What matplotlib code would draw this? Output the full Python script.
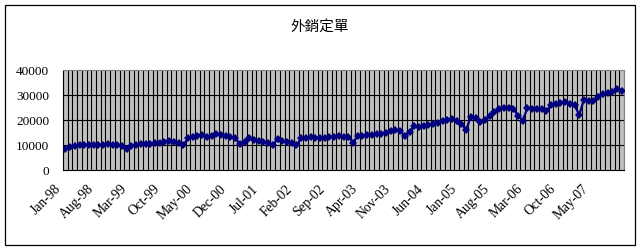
import numpy as np
import matplotlib
matplotlib.use("Agg")
import matplotlib.pyplot as plt
from matplotlib.patches import Rectangle
from matplotlib.transforms import ScaledTranslation

# monthly export orders, Jan-98 .. Nov-07
months = [f"{m}-{y:02d}" for y in list(range(98, 100)) + list(range(0, 8))
          for m in ["Jan", "Feb", "Mar", "Apr", "May", "Jun",
                    "Jul", "Aug", "Sep", "Oct", "Nov", "Dec"]][:119]
orders = [
    8500, 9200, 9800, 10200, 10000, 10100, 9900, 10200, 10000, 10300, 10100, 10200,
    9800, 8600, 9500, 10200, 10300, 10500, 10400, 10800, 11000, 11300, 11500, 11200,
    10900, 9900, 12700, 13200, 13600, 14000, 13300, 13800, 14400, 14000, 13700, 13300,
    12900, 10300, 11400, 12700, 12000, 11600, 11300, 11000, 10000, 12400, 11800, 11300,
    11000, 9900, 12700, 13000, 13200, 12800, 13000, 12900, 13100, 13300, 13600, 13400,
    13300, 11000, 13600, 13700, 13900, 14100, 14300, 14600, 15000, 15700, 16000, 15500,
    13800, 15200, 17800, 17300, 17600, 18000, 18300, 18800, 19600, 20200, 20300, 19800,
    18500, 16000, 21300, 21000, 19300, 20000, 21500, 23300, 24500, 24800, 24700,
    24500, 21800, 19800, 24700, 24500, 24600, 24300, 23600, 26000, 26600, 27000, 27200,
    26500, 26000, 22000, 28200, 27500, 27700, 29300, 30300, 30800, 31200, 32300, 31700,
]
title = "外銷定單"
y_ticks = [0, 10000, 20000, 30000, 40000]
label_step = 7

fig = plt.figure(figsize=(6.4, 2.49), dpi=100)
ax = fig.add_axes([63 / 640, 1 - 170 / 249, 561 / 640, 100 / 249])

x = np.arange(len(orders))
ax.set_facecolor("#C0C0C0")

# Excel style gridlines: one per category boundary, plus value gridlines
for b in np.arange(len(orders) + 1) - 0.5:
    ax.axvline(b, color="black", lw=0.8, zorder=1)
for yv in y_ticks[1:-1]:
    ax.axhline(yv, color="black", lw=0.8, zorder=1)

ax.plot(x, orders, color="#000080", lw=1.6, marker="D", markersize=3.8,
        markeredgewidth=0, zorder=3)

ax.set_xlim(-0.5, len(orders) - 0.5)
ax.set_ylim(0, 40000)
ax.set_yticks(y_ticks)
ax.set_yticklabels([str(v) for v in y_ticks], fontfamily="Liberation Serif", fontsize=9.5)
ax.set_xticks(x[::label_step])
ax.set_xticklabels(months[::label_step], rotation=45, ha="right", va="top",
                   rotation_mode="anchor", fontfamily="Liberation Serif", fontsize=9.8)
ax.tick_params(axis="y", length=0, pad=10)
ax.tick_params(axis="x", length=0, pad=9)
shift = ScaledTranslation(-8 / 72, 0, fig.dpi_scale_trans)
for lab in ax.get_xticklabels():
    lab.set_transform(lab.get_transform() + shift)

for side in ["top", "right", "bottom", "left"]:
    ax.spines[side].set_color("#808080")
    ax.spines[side].set_linewidth(0.8)
ax.spines["left"].set_color("black")
ax.spines["bottom"].set_color("black")

fig.text(0.5, 1 - 28 / 249, title, ha="center", va="center", fontsize=10.5,
         family=["Noto Sans CJK TC", "DejaVu Sans"])

# chart-area border
fig.patches.append(Rectangle((5 / 640, 4 / 249), 630 / 640, 240 / 249,
                             transform=fig.transFigure, fill=False,
                             edgecolor="black", lw=0.9))

fig.savefig("out.png", dpi=100, facecolor="white")
